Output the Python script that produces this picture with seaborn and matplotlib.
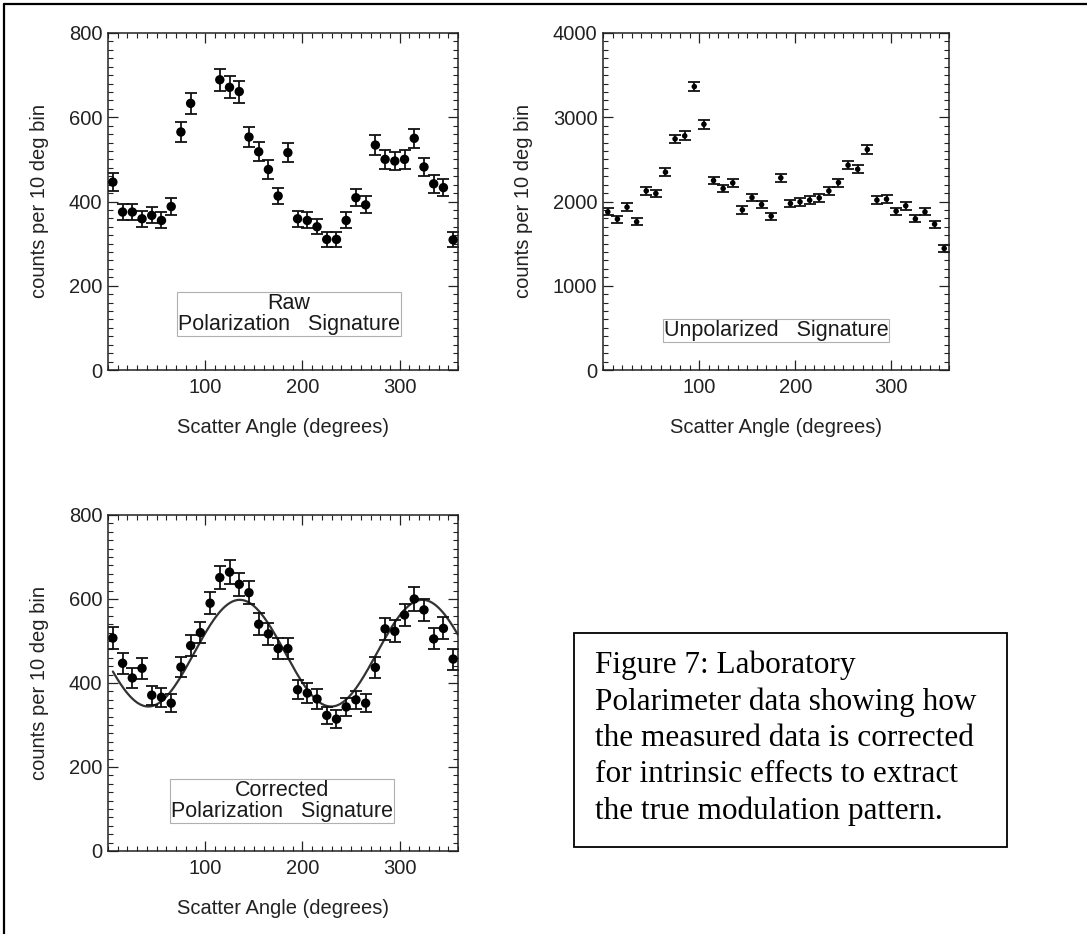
import numpy as np
import pandas as pd
import matplotlib
matplotlib.use("Agg")
import matplotlib.pyplot as plt
from matplotlib.lines import Line2D
from matplotlib.patches import Rectangle
from matplotlib.ticker import MultipleLocator, FixedLocator
import seaborn as sns

# ---- data: counts per 10-degree scatter-angle bin ----
angle = [5, 15, 25, 35, 45, 55, 65, 75, 85, 95, 105, 115, 125, 135, 145, 155, 165, 175,
         185, 195, 205, 215, 225, 235, 245, 255, 265, 275, 285, 295, 305, 315, 325, 335, 345, 355]

raw_counts = [446, 375, 375, 359, 367, 355, 388, 565, 633, np.nan, np.nan, 689, 671, 661, 553, 518, 476, 413,
              516, 359, 355, 340, 310, 310, 355, 409, 392, 534, 500, 496, 500, 550, 482, 442, 433, 309]
raw_err = [21, 19, 19, 19, 19, 19, 20, 24, 25, np.nan, np.nan, 26, 26, 26, 24, 23, 22, 20,
           23, 19, 19, 18, 18, 18, 19, 20, 20, 23, 22, 22, 22, 23, 22, 21, 21, 18]

unpol_counts = [1877, 1791, 1933, 1759, 2126, 2095, 2348, 2743, 2779, 3364, 2917, 2249, 2154, 2221, 1901, 2047, 1964, 1826,
                2281, 1976, 1996, 2016, 2043, 2126, 2225, 2431, 2383, 2617, 2016, 2028, 1885, 1949, 1794, 1877, 1731, 1443]
unpol_err = [43, 42, 44, 42, 46, 46, 48, 52, 53, 58, 54, 47, 46, 47, 44, 45, 44, 43,
             48, 44, 45, 45, 45, 46, 47, 49, 49, 51, 45, 45, 43, 44, 42, 43, 42, 38]

corr_counts = [507, 447, 412, 435, 371, 366, 352, 438, 489, 520, 590, 651, 664, 635, 615, 540, 517, 482,
               482, 384, 376, 362, 323, 314, 343, 360, 352, 437, 529, 523, 562, 600, 574, 505, 530, 457]
corr_err = [26, 25, 23, 25, 23, 22, 22, 24, 25, 25, 26, 28, 29, 28, 27, 26, 26, 25,
            25, 23, 23, 23, 21, 21, 22, 22, 22, 24, 26, 26, 27, 28, 27, 25, 26, 25]

# modulation curve: mean + amplitude * cos(2*pi (phi - peak) / period)
fit_mean = 471.0
fit_amplitude = 127.0
fit_peak = 135.5
fit_period = 188.0
fit_range = (5, 360)

xlabel = "Scatter Angle (degrees)"
ylabel = "counts per 10 deg bin"
caption = ("Figure 7: Laboratory\nPolarimeter data showing how\nthe measured data is corrected\n"
           "for intrinsic effects to extract\nthe true modulation pattern.")

# ---- styling ----
sns.set_style("ticks")
plt.rcParams["font.family"] = ["Liberation Sans", "DejaVu Sans"]
plt.rcParams.update({
    "xtick.direction": "in", "ytick.direction": "in",
    "xtick.top": True, "ytick.right": True,
    "xtick.major.size": 7.2, "ytick.major.size": 7.2,
    "xtick.minor.size": 3.6, "ytick.minor.size": 3.6,
    "xtick.major.width": 0.9, "ytick.major.width": 0.9,
    "xtick.minor.width": 0.8, "ytick.minor.width": 0.8,
    "axes.linewidth": 1.1, "axes.edgecolor": "#222222",
    "xtick.color": "#222222", "ytick.color": "#222222",
    "xtick.labelcolor": "#222222", "ytick.labelcolor": "#222222",
    "xtick.major.pad": 6, "ytick.major.pad": 4,
})

W, H = 1087, 934
fig = plt.figure(figsize=(W / 100, H / 100), dpi=100)
fig.patch.set_facecolor("white")


def ax_at(left, top, right, bottom):
    return fig.add_axes([left / W, 1 - bottom / H, (right - left) / W, (bottom - top) / H])


def style_axes(ax, ymax, ymajor, yminor):
    ax.set_xlim(0, 360)
    ax.set_ylim(0, ymax)
    ax.xaxis.set_major_locator(FixedLocator([100, 200, 300]))
    ax.xaxis.set_minor_locator(MultipleLocator(10))
    ax.yaxis.set_major_locator(MultipleLocator(ymajor))
    ax.yaxis.set_minor_locator(MultipleLocator(yminor))
    ax.tick_params(axis="both", which="both", labelsize=14.5)
    ax.set_xlabel(xlabel, fontsize=14.5, color="#222222", labelpad=15)
    ax.set_ylabel(ylabel, fontsize=14.5, color="#222222", labelpad=14.5)
    ax.set_facecolor("white")


def draw_points(ax, counts, err, size, cap):
    df = pd.DataFrame({"angle": angle, "counts": counts, "err": err}).dropna()
    ax.errorbar(df["angle"], df["counts"], yerr=df["err"], fmt="none", ecolor="#111111",
                elinewidth=1.3, capsize=cap, capthick=1.3, zorder=2)
    sns.scatterplot(data=df, x="angle", y="counts", ax=ax, color="black", s=size,
                    edgecolor="none", linewidth=0, zorder=3, legend=False)


def label_box(ax, x, y, text):
    ax.text(x, y, text, transform=ax.transAxes, ha="center", va="center", fontsize=15.5,
            color="#1a1a1a", multialignment="center", linespacing=1.0,
            bbox=dict(boxstyle="square,pad=0.05", facecolor="white", edgecolor="#b0b0b0", linewidth=0.8))


# Raw polarization signature
ax1 = ax_at(108, 33, 458, 370)
draw_points(ax1, raw_counts, raw_err, 46, 4)
style_axes(ax1, 800, 200, 20)
label_box(ax1, 0.517, 0.166, "Raw\nPolarization   Signature")

# Unpolarized signature
ax2 = ax_at(603, 33, 949, 370)
draw_points(ax2, unpol_counts, unpol_err, 16, 4)
style_axes(ax2, 4000, 1000, 100)
label_box(ax2, 0.5, 0.117, "Unpolarized   Signature")

# Corrected polarization signature with modulation curve
ax3 = ax_at(108, 515, 458, 851)
fit_angle = np.linspace(fit_range[0], fit_range[1], 400)
fit_df = pd.DataFrame({
    "angle": fit_angle,
    "model": fit_mean + fit_amplitude * np.cos(2 * np.pi * (fit_angle - fit_peak) / fit_period),
})
sns.lineplot(data=fit_df, x="angle", y="model", ax=ax3, color="#333333", linewidth=1.6, zorder=1)
draw_points(ax3, corr_counts, corr_err, 46, 4)
style_axes(ax3, 800, 200, 20)
label_box(ax3, 0.497, 0.149, "Corrected\nPolarization   Signature")

# page frame: top and left rules
fig.add_artist(Line2D([4 / W, 1.0], [1 - 4 / H, 1 - 4 / H], color="black", linewidth=1.6))
fig.add_artist(Line2D([4 / W, 4 / W], [0.0, 1 - 4 / H], color="black", linewidth=1.6))

# caption box
fig.add_artist(Rectangle((574 / W, 1 - 847 / H), (1007 - 574) / W, (847 - 633) / H,
                         transform=fig.transFigure, facecolor="white", edgecolor="black", linewidth=1.3))
fig.text(595 / W, 1 - 650 / H, caption, ha="left", va="top", fontsize=22.5,
         family=["Liberation Serif", "DejaVu Serif"], color="black", linespacing=1.335)

fig.savefig("out.png", dpi=100, facecolor="white")
